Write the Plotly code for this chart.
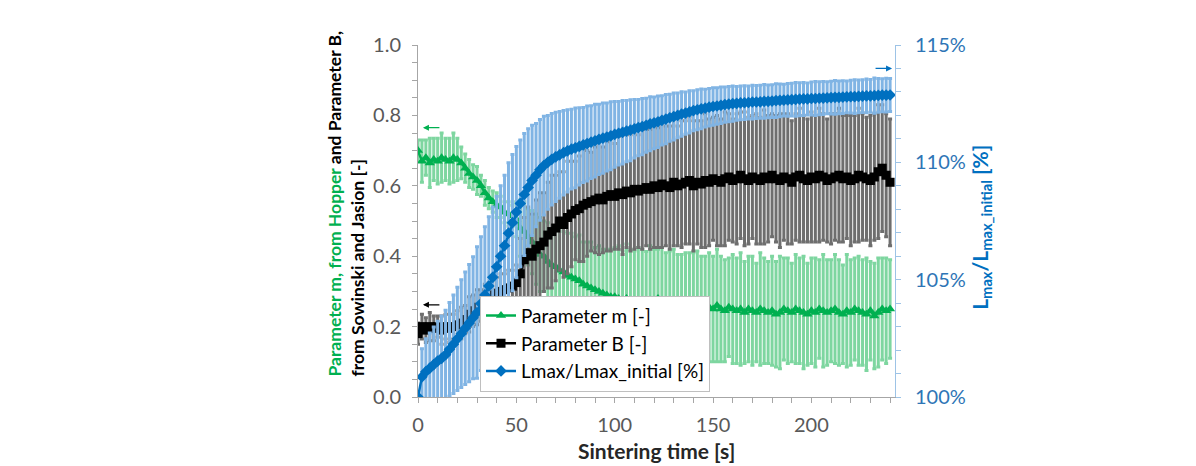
import plotly.graph_objects as go

# %% data (time step 2 s)
time_s = list(range(0, 242, 2))

param_m = [
    0.70, 0.67, 0.68, 0.665, 0.675, 0.67, 0.68, 0.675, 0.67, 0.68,
    0.675, 0.665, 0.65, 0.635, 0.625, 0.615, 0.60, 0.58, 0.565, 0.555,
    0.545, 0.54, 0.525, 0.52, 0.515, 0.505, 0.48, 0.47, 0.455, 0.44,
    0.42, 0.405, 0.40, 0.385, 0.375, 0.37, 0.36, 0.355, 0.345, 0.34,
    0.335, 0.33, 0.32, 0.315, 0.31, 0.305, 0.30, 0.295, 0.29, 0.285,
    0.285, 0.28, 0.275, 0.28, 0.27, 0.275, 0.265, 0.27, 0.268, 0.275,
    0.27, 0.28, 0.265, 0.26, 0.27, 0.26, 0.255, 0.265, 0.255, 0.26,
    0.265, 0.255, 0.25, 0.26, 0.255, 0.25, 0.26, 0.25, 0.245, 0.255,
    0.25, 0.245, 0.25, 0.24, 0.25, 0.245, 0.24, 0.25, 0.245, 0.24,
    0.245, 0.235, 0.24, 0.25, 0.245, 0.24, 0.25, 0.245, 0.24, 0.235,
    0.245, 0.24, 0.25, 0.245, 0.24, 0.245, 0.25, 0.24, 0.235, 0.245,
    0.24, 0.25, 0.245, 0.24, 0.235, 0.245, 0.23, 0.24, 0.25, 0.245,
    0.25,
]
param_m_err = [
    0.03, 0.06, 0.05, 0.07, 0.06, 0.065, 0.07, 0.06, 0.065, 0.07,
    0.06, 0.045, 0.04, 0.04, 0.035, 0.04, 0.03, 0.035, 0.03, 0.03,
    0.035, 0.03, 0.03, 0.035, 0.03, 0.05, 0.08, 0.085, 0.08, 0.09,
    0.10, 0.105, 0.10, 0.11, 0.10, 0.11, 0.12, 0.115, 0.12, 0.125,
    0.12, 0.13, 0.12, 0.125, 0.13, 0.12, 0.13, 0.125, 0.13, 0.135,
    0.14, 0.15, 0.14, 0.155, 0.15, 0.14, 0.16, 0.15, 0.145, 0.155,
    0.15, 0.14, 0.16, 0.15, 0.145, 0.16, 0.15, 0.14, 0.155, 0.15,
    0.145, 0.16, 0.15, 0.14, 0.155, 0.15, 0.16, 0.15, 0.145, 0.14,
    0.155, 0.15, 0.16, 0.145, 0.15, 0.155, 0.14, 0.16, 0.15, 0.145,
    0.155, 0.15, 0.16, 0.145, 0.15, 0.14, 0.155, 0.15, 0.16, 0.145,
    0.15, 0.155, 0.14, 0.16, 0.15, 0.145, 0.155, 0.15, 0.14, 0.16,
    0.15, 0.145, 0.155, 0.15, 0.16, 0.14, 0.15, 0.155, 0.145, 0.15,
    0.14,
]

param_b = [
    0.18, 0.20, 0.19, 0.20, 0.195, 0.20, 0.19, 0.20, 0.195, 0.20,
    0.205, 0.21, 0.22, 0.235, 0.245, 0.255, 0.26, 0.27, 0.28, 0.29,
    0.295, 0.30, 0.305, 0.31, 0.315, 0.325, 0.35, 0.39, 0.41, 0.40,
    0.42, 0.43, 0.44, 0.46, 0.47, 0.48, 0.50, 0.49, 0.51, 0.52,
    0.53, 0.535, 0.545, 0.55, 0.555, 0.56, 0.565, 0.56, 0.57, 0.575,
    0.57, 0.58, 0.575, 0.585, 0.58, 0.59, 0.585, 0.59, 0.595, 0.59,
    0.60, 0.595, 0.605, 0.60, 0.595, 0.61, 0.60, 0.605, 0.61, 0.615,
    0.60, 0.61, 0.605, 0.615, 0.61, 0.62, 0.615, 0.61, 0.62, 0.625,
    0.615, 0.62, 0.63, 0.62, 0.615, 0.625, 0.62, 0.615, 0.625, 0.62,
    0.63, 0.62, 0.615, 0.625, 0.62, 0.61, 0.625, 0.63, 0.62, 0.615,
    0.625, 0.62, 0.63, 0.625, 0.615, 0.62, 0.625, 0.63, 0.62, 0.625,
    0.615, 0.62, 0.63, 0.625, 0.62, 0.615, 0.625, 0.64, 0.65, 0.63,
    0.61,
]
param_b_err = [
    0.03, 0.035, 0.035, 0.04, 0.035, 0.03, 0.04, 0.035, 0.04, 0.035,
    0.04, 0.045, 0.04, 0.05, 0.045, 0.05, 0.045, 0.05, 0.045, 0.05,
    0.045, 0.05, 0.045, 0.05, 0.045, 0.05, 0.10, 0.12, 0.13, 0.12,
    0.14, 0.15, 0.14, 0.15, 0.16, 0.15, 0.14, 0.15, 0.16, 0.15,
    0.14, 0.15, 0.16, 0.15, 0.14, 0.15, 0.16, 0.15, 0.155, 0.16,
    0.15, 0.16, 0.17, 0.16, 0.165, 0.17, 0.16, 0.17, 0.165, 0.17,
    0.175, 0.17, 0.18, 0.17, 0.175, 0.18, 0.17, 0.18, 0.175, 0.18,
    0.185, 0.175, 0.18, 0.19, 0.18, 0.175, 0.185, 0.18, 0.19, 0.18,
    0.175, 0.185, 0.18, 0.19, 0.18, 0.175, 0.185, 0.18, 0.19, 0.18,
    0.175, 0.18, 0.19, 0.18, 0.185, 0.175, 0.18, 0.19, 0.18, 0.175,
    0.185, 0.18, 0.19, 0.18, 0.175, 0.185, 0.18, 0.19, 0.18, 0.175,
    0.185, 0.18, 0.19, 0.18, 0.175, 0.185, 0.18, 0.19, 0.18, 0.175,
    0.18,
]

lmax_pct = [
    100.0, 100.86, 101.08, 101.23, 101.38, 101.53, 101.65, 101.8, 102.03, 102.25,
    102.48, 102.7, 102.93, 103.15, 103.38, 103.6, 103.98, 104.35, 104.73, 105.1,
    105.55, 106.0, 106.45, 106.98, 107.43, 107.88, 108.25, 108.63, 108.93, 109.23,
    109.45, 109.68, 109.86, 110.0, 110.13, 110.23, 110.32, 110.41, 110.49, 110.56,
    110.62, 110.68, 110.74, 110.8, 110.86, 110.92, 110.98, 111.03, 111.08, 111.13,
    111.19, 111.24, 111.28, 111.33, 111.37, 111.43, 111.48, 111.52, 111.58, 111.64,
    111.68, 111.73, 111.79, 111.84, 111.9, 111.95, 112.0, 112.06, 112.1, 112.15,
    112.2, 112.24, 112.28, 112.31, 112.35, 112.38, 112.4, 112.43, 112.46, 112.48,
    112.5, 112.51, 112.53, 112.54, 112.55, 112.57, 112.57, 112.58, 112.6, 112.6,
    112.61, 112.63, 112.64, 112.65, 112.66, 112.67, 112.68, 112.69, 112.7, 112.7,
    112.72, 112.72, 112.73, 112.74, 112.75, 112.76, 112.77, 112.77, 112.78, 112.79,
    112.8, 112.8, 112.81, 112.82, 112.83, 112.83, 112.84, 112.85, 112.86, 112.86,
    112.87,
]
lmax_err = [
    0.0, 1.2, 1.4, 1.5, 1.6, 1.7, 1.8, 1.9, 2.0, 2.1,
    2.2, 2.3, 2.4, 2.5, 2.6, 2.8, 2.85, 2.9, 2.95, 3.0,
    3.0, 3.0, 3.0, 3.0, 2.9, 2.8, 2.7, 2.6, 2.5, 2.35,
    2.2, 2.15, 2.1, 2.0, 1.95, 1.9, 1.85, 1.8, 1.75, 1.7,
    1.7, 1.65, 1.6, 1.6, 1.55, 1.55, 1.5, 1.5, 1.45, 1.45,
    1.4, 1.35, 1.35, 1.3, 1.3, 1.25, 1.2, 1.2, 1.15, 1.15,
    1.1, 1.1, 1.05, 1.05, 1.0, 1.0, 0.95, 0.95, 0.9, 0.9,
    0.85, 0.85, 0.85, 0.8, 0.8, 0.8, 0.78, 0.78, 0.75, 0.75,
    0.75, 0.72, 0.72, 0.72, 0.7, 0.72, 0.7, 0.7, 0.72, 0.7,
    0.7, 0.72, 0.7, 0.68, 0.7, 0.7, 0.72, 0.7, 0.7, 0.68,
    0.7, 0.72, 0.7, 0.7, 0.68, 0.7, 0.72, 0.7, 0.7, 0.68,
    0.7, 0.72, 0.7, 0.7, 0.72, 0.7, 0.75, 0.72, 0.7, 0.72,
    0.7,
]

FONT = 'Lato'
GREEN = '#00B050'
BLUE = '#0070C0'
AX_GRAY = '#A6A6A6'
TXT_GRAY = '#595959'

fig = go.Figure()

fig.add_trace(go.Scatter(
    x=time_s, y=param_m, name='Parameter m [-]', mode='lines+markers',
    line=dict(color=GREEN, width=2.5),
    marker=dict(symbol='triangle-up', size=9, color=GREEN),
    error_y=dict(type='data', array=param_m_err, color='#7ED6A0', thickness=3, width=2),
))
fig.add_trace(go.Scatter(
    x=time_s, y=param_b, name='Parameter B [-]', mode='lines+markers',
    line=dict(color='black', width=2.5),
    marker=dict(symbol='square', size=9, color='black'),
    error_y=dict(type='data', array=param_b_err, color='#6E6E6E', thickness=3, width=2),
))
fig.add_trace(go.Scatter(
    x=time_s, y=lmax_pct, name='Lmax/Lmax_initial [%]', mode='lines+markers',
    yaxis='y2',
    line=dict(color=BLUE, width=2.5),
    marker=dict(symbol='diamond', size=9, color=BLUE),
    error_y=dict(type='data', array=lmax_err, color='#80B4E4', thickness=3, width=2),
))

# small arrows pointing to the axis each series belongs to
arrows = [
    dict(x=2.5, y=0.765, ax=18, ay=0, yref='y', color=GREEN),
    dict(x=2.5, y=0.262, ax=18, ay=0, yref='y', color='black'),
    dict(x=241, y=114.0, ax=-18, ay=0, yref='y2', color=BLUE),
]
annotations = []
for a in arrows:
    annotations.append(dict(
        x=a['x'], y=a['y'], xref='x', yref=a['yref'], ax=a['ax'], ay=a['ay'],
        text='', showarrow=True, arrowhead=2, arrowsize=1, arrowwidth=1.2,
        arrowcolor=a['color'],
    ))

# axis titles
annotations.append(dict(
    text=(f"<b><span style='color:{GREEN}'>Parameter m, from Hopper</span>"
          " and Parameter B,<br>from Sowinski and Jasion [-]</b>"),
    x=-0.15, y=0.551, xref='paper', yref='paper', textangle=-90,
    xanchor='center', yanchor='middle', align='left',
    showarrow=False, font=dict(family=FONT, size=17.5, color='black'),
))
annotations.append(dict(
    text='<b>L<sub>max</sub>/L<sub>max_initial</sub> [%]</b>',
    x=1.18, y=0.483, xref='paper', yref='paper', textangle=-90,
    xanchor='center', yanchor='middle',
    showarrow=False, font=dict(family=FONT, size=21, color=BLUE),
))
annotations.append(dict(
    text='<b>Sintering time [s]</b>',
    x=0.5, y=-0.151, xref='paper', yref='paper',
    xanchor='center', yanchor='middle',
    showarrow=False, font=dict(family=FONT, size=21, color='#262626'),
))

# page body has an 8 px margin, so margins are shifted by 8 px
fig.update_layout(
    width=1188, height=458,
    margin=dict(l=410, r=301, t=37, b=69),
    plot_bgcolor='white', paper_bgcolor='white',
    font=dict(family=FONT, size=20, color=TXT_GRAY),
    showlegend=True,
    legend=dict(
        x=0.13, y=0.015, xanchor='left', yanchor='bottom',
        bgcolor='white', bordercolor='#BFBFBF', borderwidth=1,
        font=dict(family=FONT, size=19, color='black'),
        tracegroupgap=0, itemwidth=30,
    ),
    xaxis=dict(
        range=[0, 242.5], dtick=50, tick0=0, automargin=False,
        showline=True, linecolor=AX_GRAY, linewidth=1,
        ticks='outside', ticklen=5, tickcolor=AX_GRAY,
        minor=dict(dtick=10, ticks='outside', ticklen=5, tickcolor=AX_GRAY),
        showgrid=False, zeroline=False,
        ticklabelstandoff=5,
        tickfont=dict(size=20, color=TXT_GRAY),
    ),
    yaxis=dict(
        range=[0, 1], dtick=0.2, tickformat='.1f', automargin=False,
        showline=True, linecolor=AX_GRAY, linewidth=1,
        ticks='outside', ticklen=5, tickcolor=AX_GRAY,
        minor=dict(dtick=0.05, ticks='outside', ticklen=5, tickcolor=AX_GRAY),
        showgrid=False, zeroline=False,
        ticklabelstandoff=7,
        tickfont=dict(size=20, color=TXT_GRAY),
    ),
    yaxis2=dict(
        range=[100, 115], dtick=5, ticksuffix='%', overlaying='y', side='right',
        automargin=False,
        showline=True, linecolor='#9DC3E6', linewidth=1,
        ticks='outside', ticklen=5, tickcolor='#9DC3E6',
        minor=dict(dtick=1, ticks='outside', ticklen=5, tickcolor='#9DC3E6'),
        showgrid=False, zeroline=False,
        ticklabelstandoff=10,
        tickfont=dict(size=20, color='#2E75B6'),
    ),
    annotations=annotations,
)

fig.write_html('out.html')
